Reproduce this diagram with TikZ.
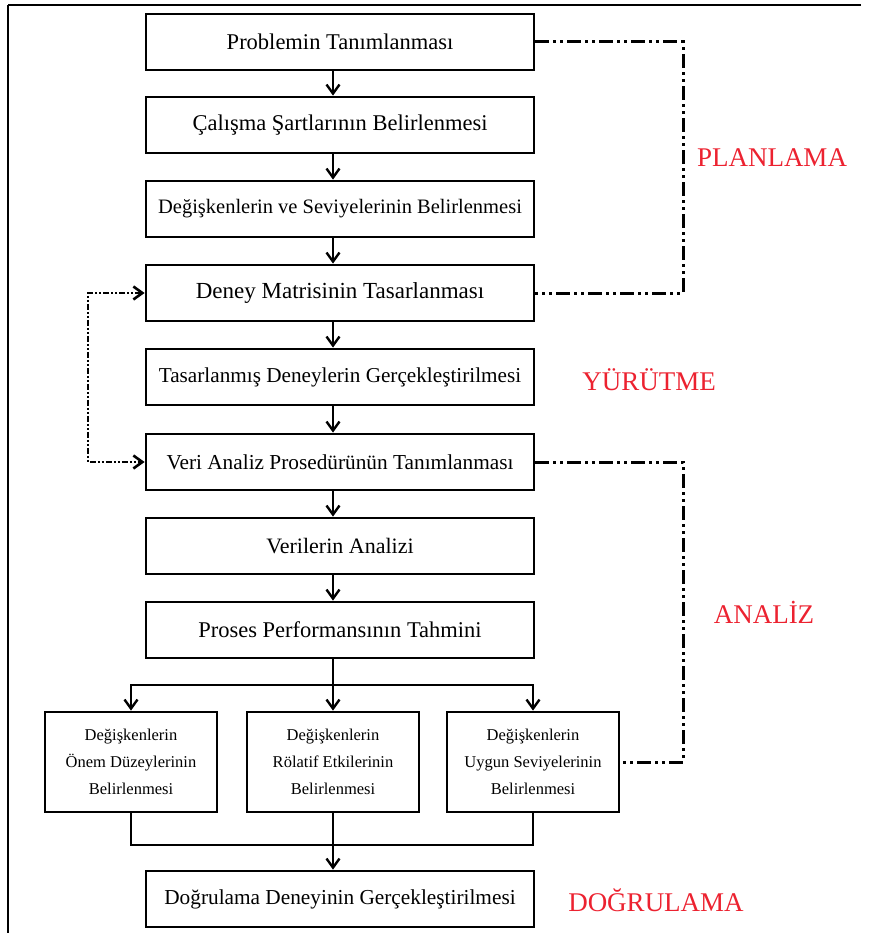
\documentclass[tikz,border=0pt]{standalone}
\usepackage{fontspec}
\setmainfont{Liberation Serif}
\usepackage{tikz}
\usetikzlibrary{arrows.meta, calc}
\definecolor{phasered}{RGB}{236,34,48}
\tikzset{
	stepbox/.style={draw, line width=2.8pt, minimum width=388pt, minimum height=56pt,
		inner sep=0pt, font=\fontsize{#1}{26}\selectfont},
	stepbox/.default=22
}
\tikzset{
	smallbox/.style={draw, line width=2.8pt, minimum width=172pt, minimum height=100pt,
		inner sep=0pt, align=center, font=\fontsize{16.5}{27}\selectfont}
}
\tikzset{
	phasetext/.style={text=phasered, font=\fontsize{27}{30}\selectfont}
}
\tikzset{
	phaseline/.style={line width=3pt, dash pattern=on 14pt off 4pt on 3pt off 4pt on 3pt off 4pt},
	loopline/.style={line width=2.6pt, dash pattern=on 6pt off 2pt on 2pt off 2pt on 2pt off 2pt}
}

\begin{document}
\begin{tikzpicture}[x=1pt, y=-1pt, >={Straight Barb[length=9pt, width=13pt]}, line width=2.4pt]
      \useasboundingbox (0,0) rectangle (870,933);
      % page frame
      \draw[line width=1.8pt] (861,5) -- (8,5);
      \draw[line width=2.8pt] (8,5) -- (8,933);
      \foreach \i/\y/\s/\t in {1/42/22.5/{Problemin Tanımlanması},
          2/125/22.5/{Çalışma Şartlarının Belirlenmesi},
          3/209/20.5/{Değişkenlerin ve Seviyelerinin Belirlenmesi},
          4/293/23/{Deney Matrisinin Tasarlanması},
          5/377/21.2/{Tasarlanmış Deneylerin Gerçekleştirilmesi},
          6/462/21.3/{Veri Analiz Prosedürünün Tanımlanması},
          7/546/22/{Verilerin Analizi},
          8/630/22.5/{Proses Performansının Tahmini},
          9/899/21.3/{Doğrulama Deneyinin Gerçekleştirilmesi}} {
        \node[stepbox=\s] (b\i) at (340,\y) {\t};
      }
      \node[smallbox] (s1) at (131,762) {Değişkenlerin\\Önem Düzeylerinin\\Belirlenmesi};
      \node[smallbox] (s2) at (333,762) {Değişkenlerin\\Rölatif Etkilerinin\\Belirlenmesi};
      \node[smallbox] (s3) at (533,762) {Değişkenlerin\\Uygun Seviyelerinin\\Belirlenmesi};
      \foreach \a/\b in {1/2,2/3,3/4,4/5,5/6,6/7,7/8} {
        \draw[->] (b\a.south -| s2) -- (b\b.north -| s2);
      }
      \coordinate (split) at (333,685);
      \coordinate (join) at (333,845);
      \draw (b8.south -| s2) -- (split);
      \draw[->] (split) -| (s1.north);
      \draw[->] (split) -| (s3.north);
      \draw[->] (split) -- (s2.north);
      \draw (s1.south) |- (join);
      \draw (s3.south) |- (join);
      \draw[->] (s2.south) -- (b9.north -| s2);
      % phase brackets on the right
      \coordinate (rtop) at (683,42);
      \coordinate (rbot) at (683,462);
      \draw[phaseline] (b1.east) -- (rtop) |- (b4.east);
      \draw[phaseline] (b6.east) -- (rbot) |- (s3.east);
      \coordinate (lft) at (88,293);
      \draw[loopline, <->] (b4.west) -- (lft) |- (b6.west);
      \node[phasetext] (planlama) at (772,158) {PLANLAMA};
      \node[phasetext] (yurutme) at (649,380) {YÜRÜTME};
      \node[phasetext] (analiz) at (764,612) {ANALİZ};
      \node[phasetext] (dogrulama) at (656,900) {DOĞRULAMA};
    \end{tikzpicture}
\end{document}
